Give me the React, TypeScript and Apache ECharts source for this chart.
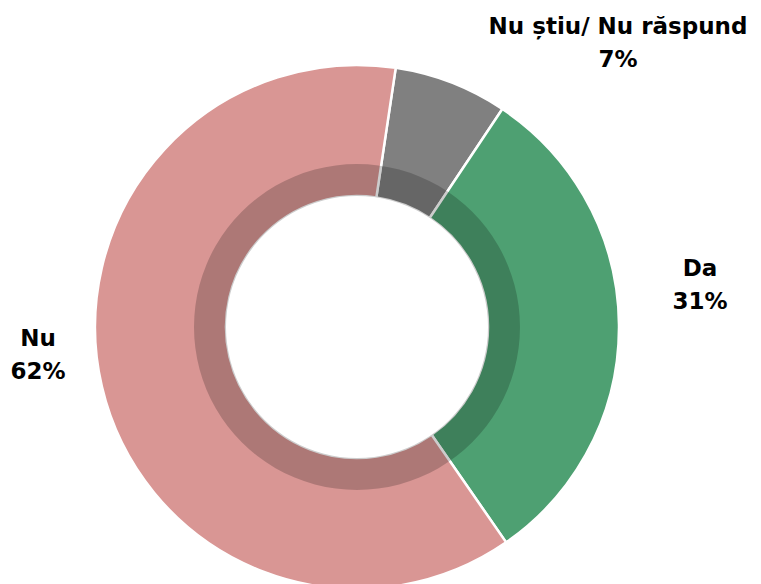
import React, { useEffect, useRef } from "react";
import * as echarts from "echarts";

const categories = ["Nu știu/ Nu răspund", "Da", "Nu"];
const values = [7, 31, 62];
const colors = ["#808080", "#4EA072", "#D99694"];
const labelPos = [
  [618, 42],
  [700, 284],
  [38, 354],
];

export default function App() {
  const ref = useRef<HTMLDivElement>(null);
  useEffect(() => {
    document.body.style.margin = "0";
    const chart = echarts.init(ref.current!, null, { renderer: "svg" });
    chart.setOption({
      animation: false,
      backgroundColor: "#ffffff",
      series: [
        {
          type: "pie",
          center: [357, 327],
          radius: [131, 262],
          startAngle: 81.5,
          clockwise: true,
          silent: true,
          data: categories.map((c, i) => ({
            name: c,
            value: values[i],
            itemStyle: { color: colors[i] },
          })),
          itemStyle: { borderColor: "#ffffff", borderWidth: 2.5 },
          label: {
            show: true,
            position: "outside",
            formatter: "{b}\n{c}%",
            color: "#000000",
            fontFamily: "DejaVu Sans",
            fontWeight: "bold",
            fontSize: 23,
            lineHeight: 33,
            align: "center",
            overflow: "none",
            width: 400,
          },
          labelLine: { show: false },
          labelLayout: (p: any) => ({
            x: labelPos[p.dataIndex][0],
            y: labelPos[p.dataIndex][1],
            align: "center",
            verticalAlign: "middle",
          }),
        },
        {
          type: "pie",
          center: [357, 327],
          radius: [131, 163],
          silent: true,
          z: 5,
          label: { show: false },
          labelLine: { show: false },
          itemStyle: { borderWidth: 0 },
          emphasis: { disabled: true },
          data: [{ name: "overlay", value: 1, itemStyle: { color: "rgba(0,0,0,0.2)", borderWidth: 0 } }],
        },
      ],
    });
    return () => chart.dispose();
  }, []);
  return (
    <div
      ref={ref}
      style={{ position: "fixed", left: 0, top: 0, width: 761, height: 584 }}
    />
  );
}
